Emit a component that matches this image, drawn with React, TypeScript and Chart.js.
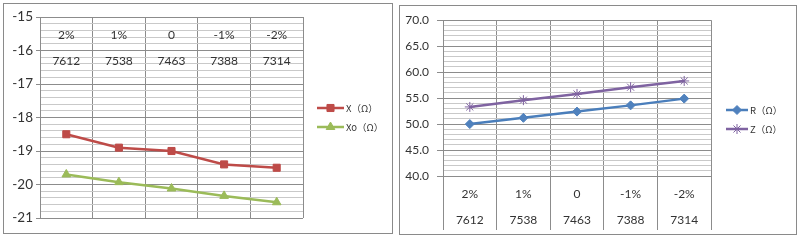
import React, { useEffect, useRef } from 'react';
import { Chart, registerables } from 'chart.js';
import { drawPoint } from 'chart.js/helpers';

Chart.register(...registerables);

// ---- data ----
const pctLabels = ['2%', '1%', '0', '-1%', '-2%'];
const tapLabels = ['7612', '7538', '7463', '7388', '7314'];
const xValues = [-18.5, -18.9, -19.0, -19.4, -19.5];
const xoValues = [-19.7, -19.93, -20.12, -20.34, -20.53];
const rValues = [50.0, 51.2, 52.4, 53.6, 54.9];
const zValues = [53.3, 54.6, 55.8, 57.1, 58.3];
const leftAxis = { min: -21, max: -15, major: 1, minor: 0.2 };
const rightAxis = { min: 40, max: 70, major: 5, minor: 1 };
const leftSeriesNames = ['X（Ω）', 'Xo（Ω）'];
const rightSeriesNames = ['R（Ω）', 'Z（Ω）'];

// ---- styles ----
const FONT = "Lato, 'Open Sans', sans-serif";
const LEGEND_FONT = "9.5px 'Noto Sans CJK SC', Lato, sans-serif";
const TEXT = '#333333';
const GRID_MAJOR = '#8c8c8c';
const GRID_MINOR = '#c9c9c9';
const RED = '#BE4B48';
const GREEN = '#9BBB59';
const BLUE = '#4A7EBB';
const PURPLE = '#7F63A1';

const isMult = (v: number, step: number) => Math.abs(v / step - Math.round(v / step)) < 1e-6;

const lineLegend = {
  id: 'lineLegend',
  afterDraw(chart: any, _args: any, opts: any) {
    const ctx = chart.ctx;
    const { x, y, gap, lineLen, font, color } = opts;
    chart.data.datasets.forEach((ds: any, i: number) => {
      const cy = y + i * gap;
      ctx.save();
      ctx.strokeStyle = ds.borderColor;
      ctx.lineWidth = ds.borderWidth;
      ctx.beginPath();
      ctx.moveTo(x, cy);
      ctx.lineTo(x + lineLen, cy);
      ctx.stroke();
      ctx.fillStyle = ds.pointBackgroundColor;
      ctx.strokeStyle = ds.pointBorderColor;
      ctx.lineWidth = ds.pointBorderWidth;
      drawPoint(ctx, { pointStyle: ds.pointStyle, radius: ds.pointRadius, rotation: 0, borderWidth: ds.pointBorderWidth } as any, x + lineLen / 2, cy);
      ctx.fillStyle = color;
      ctx.font = font;
      ctx.textBaseline = 'middle';
      ctx.textAlign = 'left';
      ctx.fillText(ds.label, x + lineLen + 2, cy);
      ctx.restore();
    });
  },
};

function series(label: string, data: number[], line: string, marker: string, style: string, radius: number) {
  return {
    label,
    data,
    borderColor: line,
    backgroundColor: marker,
    pointBackgroundColor: marker,
    pointBorderColor: marker,
    pointStyle: style,
    pointRadius: radius,
    pointBorderWidth: 1,
    borderWidth: 2.5,
    tension: 0,
  };
}

export default function App() {
  const leftRef = useRef<HTMLCanvasElement>(null);
  const rightRef = useRef<HTMLCanvasElement>(null);

  useEffect(() => {
    const labels = pctLabels.map((p, i) => [p, tapLabels[i]]);

    const left = new Chart(leftRef.current as HTMLCanvasElement, {
      type: 'line',
      data: {
        labels,
        datasets: [
          series(leftSeriesNames[0], xValues, RED, RED, 'rect', 5),
          series(leftSeriesNames[1], xoValues, GREEN, GREEN, 'triangle', 5),
        ] as any,
      },
      options: {
        responsive: false,
        animation: false,
        layout: { padding: { left: 0, top: 14, right: 90, bottom: 16 } },
        plugins: {
          legend: { display: false },
          tooltip: { enabled: false },
          lineLegend: { x: 314, y: 105, gap: 19, lineLen: 27, font: LEGEND_FONT, color: TEXT },
        } as any,
        scales: {
          x: {
            position: 'top',
            offset: true,
            grid: { offset: true, color: GRID_MAJOR, drawTicks: false },
            border: { color: GRID_MAJOR },
            ticks: {
              mirror: true,
              padding: -21,
              maxRotation: 0,
              autoSkip: false,
              color: TEXT,
              font: { family: FONT, size: 12, lineHeight: '26px' } as any,
            },
            afterFit: (s: any) => { s.height = 0; },
          },
          y: {
            min: leftAxis.min,
            max: leftAxis.max,
            ticks: {
              stepSize: leftAxis.minor,
              autoSkip: false,
              padding: 3,
              color: TEXT,
              font: { family: FONT, size: 13.5 },
              callback: (v: any) => (isMult(Number(v), leftAxis.major) ? String(Math.round(Number(v))) : ''),
            },
            grid: {
              color: (c: any) => (isMult(c.tick.value, leftAxis.major) ? GRID_MAJOR : GRID_MINOR),
              tickColor: (c: any) => (isMult(c.tick.value, leftAxis.major) ? GRID_MAJOR : 'rgba(0,0,0,0)'),
              tickLength: 4,
            },
            border: { color: GRID_MAJOR },
            afterFit: (s: any) => { s.width = 37; },
          },
        } as any,
      },
      plugins: [lineLegend as any],
    });

    const right = new Chart(rightRef.current as HTMLCanvasElement, {
      type: 'line',
      data: {
        labels,
        datasets: [
          series(rightSeriesNames[0], rValues, BLUE, '#4F81BD', 'rectRot', 4.5),
          series(rightSeriesNames[1], zValues, PURPLE, PURPLE, 'star', 5),
        ] as any,
      },
      options: {
        responsive: false,
        animation: false,
        layout: { padding: { left: 0, top: 13, right: 86, bottom: 0 } },
        plugins: {
          legend: { display: false },
          tooltip: { enabled: false },
          lineLegend: { x: 326, y: 105, gap: 19, lineLen: 22, font: LEGEND_FONT, color: TEXT },
        } as any,
        scales: {
          x: {
            position: 'bottom',
            offset: true,
            grid: { offset: true, color: GRID_MAJOR, drawTicks: true, tickLength: 54, tickColor: GRID_MAJOR },
            border: { color: GRID_MAJOR },
            ticks: {
              padding: -49,
              maxRotation: 0,
              autoSkip: false,
              color: TEXT,
              font: { family: FONT, size: 12, lineHeight: '26px' } as any,
            },
            afterFit: (s: any) => { s.height = 58; },
          },
          y: {
            min: rightAxis.min,
            max: rightAxis.max,
            ticks: {
              stepSize: rightAxis.minor,
              autoSkip: false,
              padding: 8,
              color: TEXT,
              font: { family: FONT, size: 12 },
              callback: (v: any) => (isMult(Number(v), rightAxis.major) ? Number(v).toFixed(1) : ''),
            },
            grid: {
              color: (c: any) => (isMult(c.tick.value, rightAxis.major) ? GRID_MAJOR : GRID_MINOR),
              tickColor: (c: any) => (isMult(c.tick.value, rightAxis.major) ? GRID_MAJOR : 'rgba(0,0,0,0)'),
              tickLength: 6,
            },
            border: { color: GRID_MAJOR },
            afterFit: (s: any) => { s.width = 43; },
          },
        } as any,
      },
      plugins: [lineLegend as any],
    });

    return () => {
      left.destroy();
      right.destroy();
    };
  }, []);

  return (
    <div style={{ position: 'fixed', left: 0, top: 0, width: 800, height: 240, background: '#fff', overflow: 'hidden' }}>
      <div style={{ position: 'absolute', left: 3, top: 3, width: 390, height: 231, border: '1px solid #8a8a8a', boxSizing: 'border-box' }} />
      <div style={{ position: 'absolute', left: 399, top: 5, width: 398, height: 230, border: '1px solid #8a8a8a', boxSizing: 'border-box' }} />
      <canvas ref={leftRef} width={390} height={231} style={{ position: 'absolute', left: 3, top: 3, width: 390, height: 231 }} />
      <canvas ref={rightRef} width={397} height={229} style={{ position: 'absolute', left: 400, top: 5, width: 397, height: 229 }} />
    </div>
  );
}
